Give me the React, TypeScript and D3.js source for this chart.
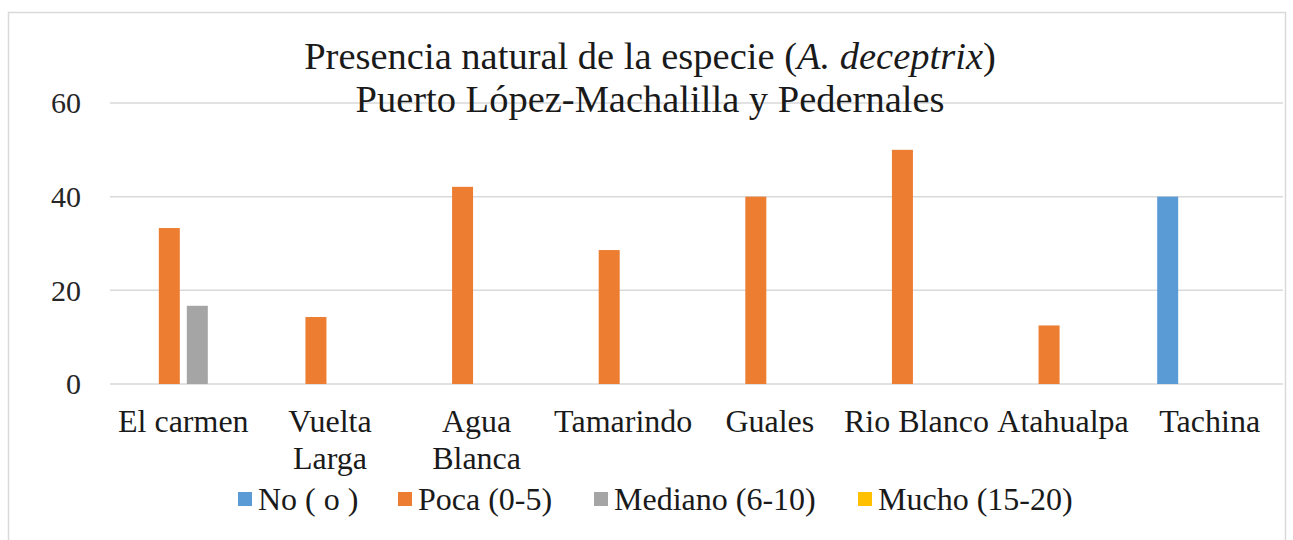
import React from "react";
import * as d3 from "d3";

const categories = [
  "El carmen",
  "Vuelta\nLarga",
  "Agua\nBlanca",
  "Tamarindo",
  "Guales",
  "Rio Blanco",
  "Atahualpa",
  "Tachina",
];
const seriesNames = ["No ( o )", "Poca (0-5)", "Mediano (6-10)", "Mucho (15-20)"];
const seriesColors = ["#5B9BD5", "#ED7D31", "#A5A5A5", "#FFC000"];

// one array per series, same order as categories
const noValues = [0, 0, 0, 0, 0, 0, 0, 40];
const pocaValues = [33.3, 14.3, 42.1, 28.6, 40, 50, 12.5, 0];
const medianoValues = [16.7, 0, 0, 0, 0, 0, 0, 0];
const muchoValues = [0, 0, 0, 0, 0, 0, 0, 0];
const yTicks = [0, 20, 40, 60];

const font = "'Liberation Serif', 'Times New Roman', serif";

const App = () => {
  const width = 1293;
  const height = 540;
  const plot = { left: 110, right: 1283, top: 103, bottom: 384 };

  const seriesValues = [noValues, pocaValues, medianoValues, muchoValues];

  const x0 = d3
    .scaleBand<string>()
    .domain(categories)
    .range([plot.left, plot.right])
    .padding(0);
  const x1 = d3
    .scaleBand<string>()
    .domain(seriesNames)
    .range([0, 105])
    .paddingInner(0.25)
    .paddingOuter(0);
  const y = d3.scaleLinear().domain([0, 60]).range([plot.bottom, plot.top]);
  const clusterOffset = (x0.bandwidth() - 105) / 2;

  const legendX = [238, 398, 594, 858];

  return (
    <div style={{ position: "absolute", left: 0, top: 0 }}>
      <svg width={width} height={height} style={{ display: "block", background: "#fff" }}>
        <rect x={8.5} y={12.5} width={1277} height={540} fill="#fff" stroke="#d9d9d9" strokeWidth={1.5} />

        {/* gridlines */}
        {yTicks.map((t) => (
          <line
            key={"g" + t}
            x1={plot.left}
            x2={plot.right}
            y1={y(t)}
            y2={y(t)}
            stroke="#d9d9d9"
            strokeWidth={1.5}
          />
        ))}
        {yTicks.map((t) => (
          <text
            key={"t" + t}
            x={81}
            y={y(t)}
            dy="0.34em"
            textAnchor="end"
            fontFamily={font}
            fontSize={30}
            fill="#262626"
          >
            {t}
          </text>
        ))}

        {/* bars */}
        {categories.map((c, ci) =>
          seriesNames.map((s, si) => {
            const v = seriesValues[si][ci];
            if (!v) return null;
            return (
              <rect
                key={c + s}
                x={(x0(c) as number) + clusterOffset + (x1(s) as number)}
                y={y(v)}
                width={x1.bandwidth()}
                height={y(0) - y(v)}
                fill={seriesColors[si]}
              />
            );
          })
        )}

        {/* category labels */}
        {categories.map((c) => (
          <text
            key={"c" + c}
            textAnchor="middle"
            fontFamily={font}
            fontSize={32}
            fill="#1a1a1a"
          >
            {c.split("\n").map((line, li) => (
              <tspan key={li} x={(x0(c) as number) + x0.bandwidth() / 2} y={432 + li * 37}>
                {line}
              </tspan>
            ))}
          </text>
        ))}

        {/* title */}
        <text x={650} y={69} textAnchor="middle" fontFamily={font} fontSize={38.5} fill="#1a1a1a">
          Presencia natural de la especie (<tspan fontStyle="italic">A. deceptrix</tspan>)
        </text>
        <text x={650} y={112} textAnchor="middle" fontFamily={font} fontSize={38.5} fill="#1a1a1a">
          Puerto López-Machalilla y Pedernales
        </text>

        {/* legend */}
        {seriesNames.map((s, si) => (
          <g key={"l" + s} transform={`translate(${legendX[si]},0)`}>
            <rect x={0} y={492} width={14} height={14} fill={seriesColors[si]} />
            <text x={20} y={510} fontFamily={font} fontSize={32} fill="#1a1a1a">
              {s}
            </text>
          </g>
        ))}
      </svg>
    </div>
  );
};

export default App;
